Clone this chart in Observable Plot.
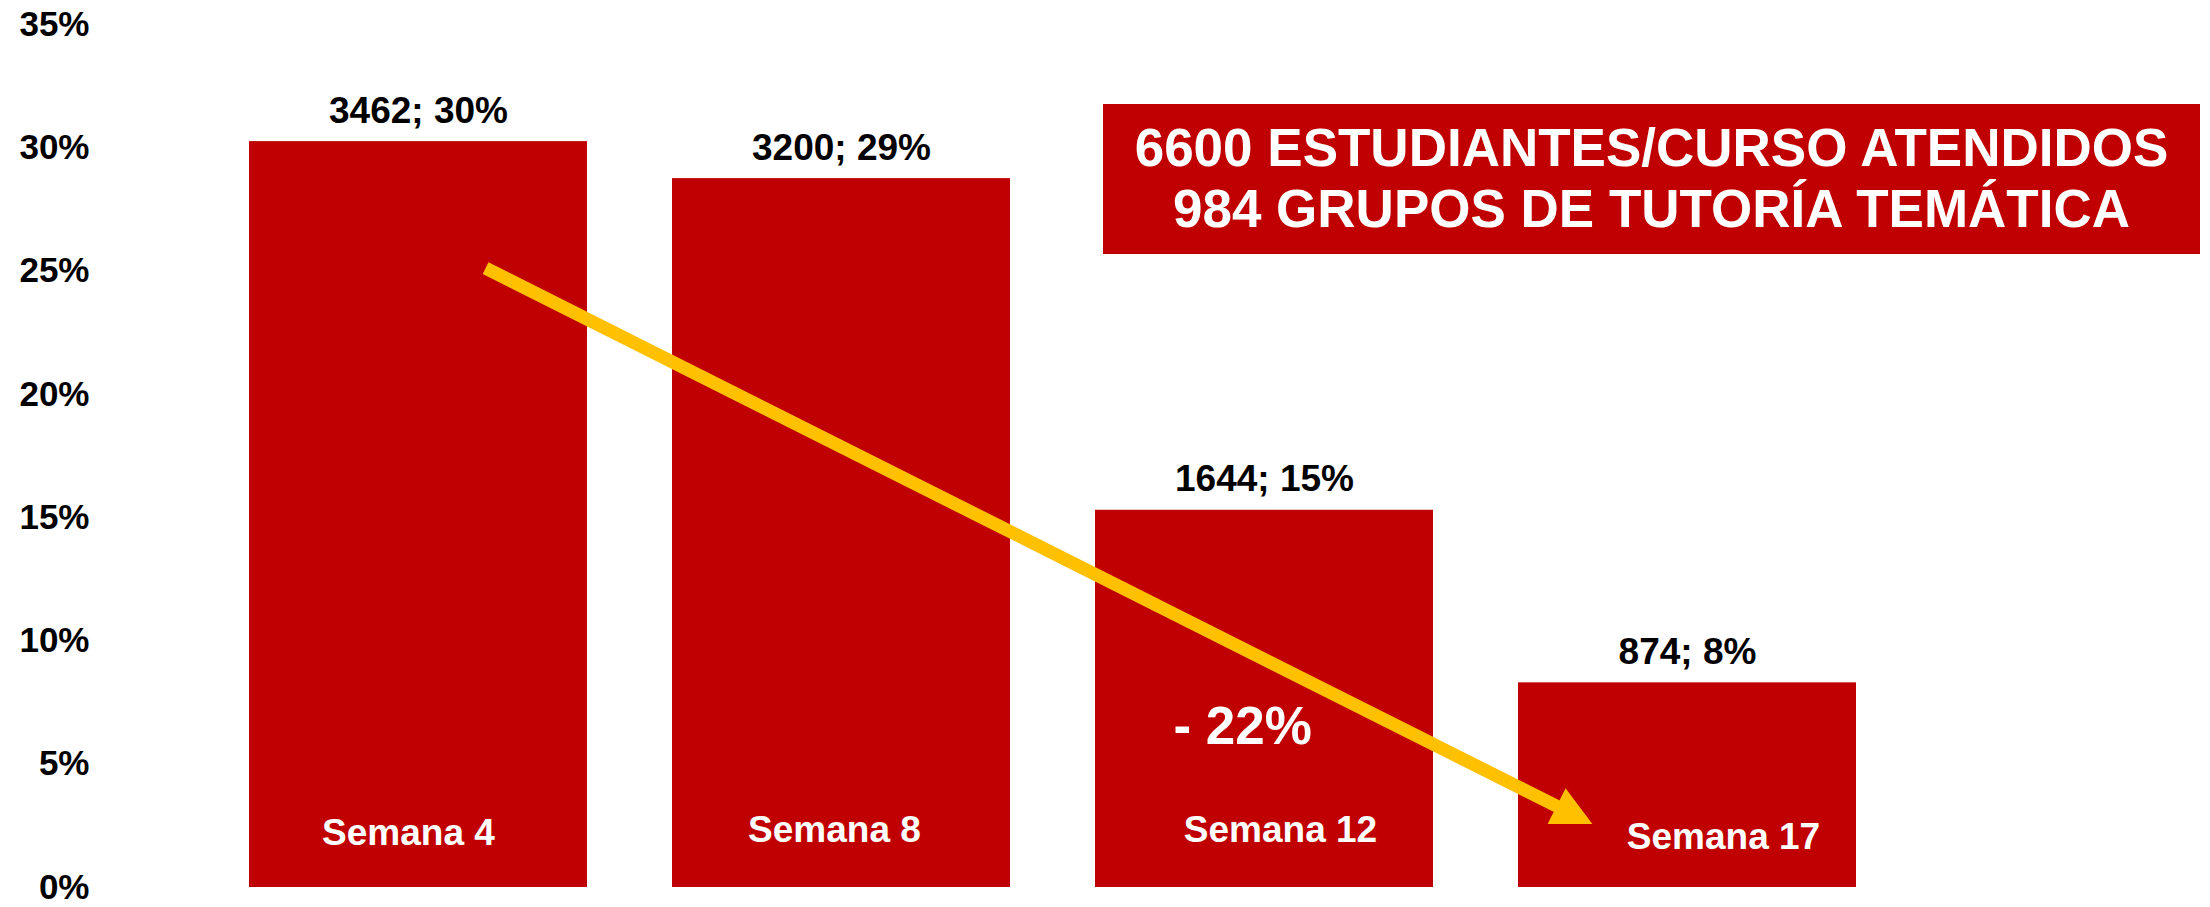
<!DOCTYPE html>
<html>
<head>
<meta charset="utf-8">
<script src="https://cdn.jsdelivr.net/npm/d3@7"></script>
<script src="https://cdn.jsdelivr.net/npm/@observablehq/plot@0.6"></script>
<style>
  body { margin: 0; background: #fff; }
  #chart svg { display: block; }
</style>
</head>
<body>
<div id="chart"></div>
<script>
// ---- data ----
const weeks = ["Semana 4", "Semana 8", "Semana 12", "Semana 17"];
const counts = [3462, 3200, 1644, 874];
const pctLabels = [30, 29, 15, 8];
const pctValues = [30.25, 28.75, 15.3, 8.3];
const yTicks = [0, 5, 10, 15, 20, 25, 30, 35];
const boxLines = ["6600 ESTUDIANTES/CURSO ATENDIDOS", "984 GRUPOS DE TUTORÍA TEMÁTICA"];
const changeLabel = ["- 22%"];
const trendFrom = {week: "Semana 4", frac: 0.70, pct: 25.1};
const trendTo = {week: "Semana 17", frac: 0.22, pct: 2.55};

const data = weeks.map((w, i) => ({week: w, count: counts[i], label: pctLabels[i], pct: pctValues[i]}));

// ---- layout (label nudges, px) ----
const weekLabelNudge = [[-10, -43], [-7, -46], [16, -46], [36, -39]];

const RED = "#C00000";
const YELLOW = "#FFC000";
const FONT = "'Liberation Sans', Arial, Helvetica, sans-serif";

function bandwidthOf(scale, dims) {
  if (scale && typeof scale.bandwidth === "function") return scale.bandwidth();
  return (dims.width - dims.marginLeft - dims.marginRight) / 4.2 * 0.8;
}

// trend arrow annotation, positioned through the scales
function trendArrow(index, scales, values, dims) {
  const bw = bandwidthOf(scales.x, dims);
  const xa = scales.x(trendFrom.week) + trendFrom.frac * bw;
  const ya = scales.y(trendFrom.pct);
  const xb = scales.x(trendTo.week) + trendTo.frac * bw;
  const yb = scales.y(trendTo.pct);
  const dx = xb - xa, dy = yb - ya, len = Math.hypot(dx, dy);
  const ux = dx / len, uy = dy / len, px = -uy, py = ux;
  const headLen = 40, headHalf = 20;
  const bx = xb - ux * headLen, by = yb - uy * headLen;
  const g = d3.create("svg:g");
  g.append("line")
    .attr("x1", xa).attr("y1", ya).attr("x2", bx + ux * 2).attr("y2", by + uy * 2)
    .attr("stroke", YELLOW).attr("stroke-width", 13).attr("stroke-linecap", "butt");
  g.append("polygon")
    .attr("points", [[xb, yb], [bx + px * headHalf, by + py * headHalf], [bx - px * headHalf, by - py * headHalf]].map(p => p.join(",")).join(" "))
    .attr("fill", YELLOW);
  return g.node();
}

// summary box annotation
function infoBox(index, scales, values, dims) {
  const x0 = 1103, x1 = dims.width - 10, y0 = 104, y1 = 254;
  const g = d3.create("svg:g");
  g.append("rect").attr("x", x0).attr("y", y0).attr("width", x1 - x0).attr("height", y1 - y0).attr("fill", RED);
  g.selectAll("text").data(boxLines).join("text")
    .attr("x", (x0 + x1) / 2)
    .attr("y", (d, i) => 166 + i * 61)
    .attr("text-anchor", "middle")
    .attr("fill", "#fff")
    .attr("font-family", FONT)
    .attr("font-weight", "bold")
    .attr("font-size", 53)
    .text(d => d);
  return g.node();
}

const chart = Plot.plot({
  width: 2210,
  height: 907,
  marginLeft: 164,
  marginRight: 269,
  marginTop: 24,
  marginBottom: 20,
  style: {fontFamily: FONT, background: "#fff", color: "#000", overflow: "visible"},
  x: {domain: weeks, padding: 0.2, axis: null},
  y: {domain: [0, 35], axis: null},
  marks: [
    Plot.text(yTicks, {
      y: d => d, text: d => d + "%", frameAnchor: "left", dx: -75, textAnchor: "end",
      fontSize: 35, fontWeight: "bold", fill: "#000"
    }),
    Plot.barY(data, {x: "week", y: "pct", fill: RED}),
    trendArrow,
    Plot.text(data, {
      x: "week", y: "pct", text: d => `${d.count}; ${d.label}%`, dy: -19, lineAnchor: "bottom",
      fontSize: 37, fontWeight: "bold", fill: "#000"
    }),
    ...data.map((d, i) => Plot.text([d], {
      x: "week", y: () => 0, text: "week",
      dx: weekLabelNudge[i][0], dy: weekLabelNudge[i][1], lineAnchor: "bottom",
      fontSize: 37, fontWeight: "bold", fill: "#fff"
    })),
    Plot.text(changeLabel, {
      x: () => "Semana 12", y: () => 5.8, text: d => d, dx: -91, textAnchor: "start", lineAnchor: "bottom",
      fontSize: 53, fontWeight: "bold", fill: "#fff"
    }),
    infoBox
  ]
});

document.getElementById("chart").appendChild(chart);
</script>
</body>
</html>
